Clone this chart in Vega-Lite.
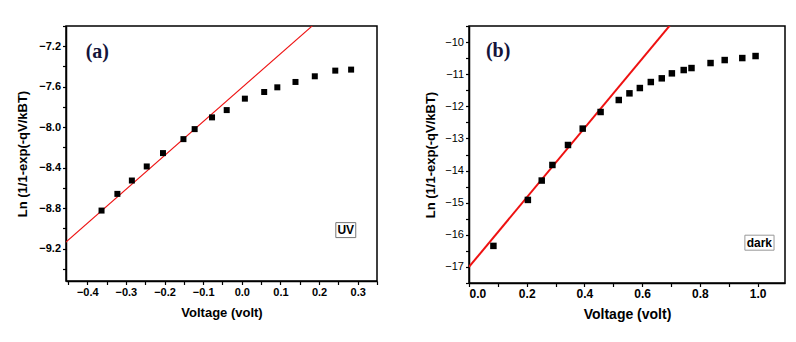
{
  "$schema": "https://vega.github.io/schema/vega-lite/v6.json",
  "padding": {"left": 16, "top": 19, "right": 0, "bottom": 0},
  "background": "white",
  "bounds": "flush",
  "spacing": 92,
  "config": {
    "view": {"stroke": "#000", "strokeWidth": 1.5},
    "font": "Liberation Sans",
    "axis": {
      "grid": false,
      "domainColor": "#000",
      "domainWidth": 1.5,
      "tickColor": "#000",
      "tickWidth": 1.2,
      "tickSize": 3.5,
      "labelColor": "#000",
      "titleColor": "#000",
      "labelFont": "Liberation Sans",
      "titleFont": "Liberation Sans",
      "labelFontSize": 11,
      "titleFontWeight": "bold",
      "labelPadding": 2,
      "labelOverlap": false
    }
  },
  "datasets": {
    "uv": [
      {"V": -0.363, "Ln": -8.824},
      {"V": -0.322, "Ln": -8.659},
      {"V": -0.2845, "Ln": -8.527},
      {"V": -0.246, "Ln": -8.388},
      {"V": -0.204, "Ln": -8.256},
      {"V": -0.151, "Ln": -8.118},
      {"V": -0.122, "Ln": -8.019},
      {"V": -0.077, "Ln": -7.903},
      {"V": -0.039, "Ln": -7.831},
      {"V": 0.008, "Ln": -7.718},
      {"V": 0.058, "Ln": -7.652},
      {"V": 0.092, "Ln": -7.606},
      {"V": 0.139, "Ln": -7.553},
      {"V": 0.189, "Ln": -7.497},
      {"V": 0.242, "Ln": -7.441},
      {"V": 0.283, "Ln": -7.431}
    ],
    "uvfit": [
      {"V": -0.46, "Ln": -9.151},
      {"V": 0.2, "Ln": -6.94}
    ],
    "dark": [
      {"V": 0.0846, "Ln": -16.345},
      {"V": 0.204, "Ln": -14.914},
      {"V": 0.252, "Ln": -14.311},
      {"V": 0.289, "Ln": -13.826},
      {"V": 0.343, "Ln": -13.204},
      {"V": 0.394, "Ln": -12.694},
      {"V": 0.456, "Ln": -12.177},
      {"V": 0.519, "Ln": -11.804},
      {"V": 0.556, "Ln": -11.596},
      {"V": 0.592, "Ln": -11.431},
      {"V": 0.63, "Ln": -11.244},
      {"V": 0.668, "Ln": -11.129},
      {"V": 0.703, "Ln": -10.974},
      {"V": 0.744, "Ln": -10.871},
      {"V": 0.771, "Ln": -10.809},
      {"V": 0.837, "Ln": -10.653},
      {"V": 0.886, "Ln": -10.56},
      {"V": 0.947, "Ln": -10.498},
      {"V": 0.993, "Ln": -10.435}
    ],
    "darkfit": [
      {"V": 0.0, "Ln": -17.0},
      {"V": 0.72, "Ln": -9.224}
    ],
    "labA": [{"V": -0.374, "Ln": -7.26, "t": "(a)"}],
    "boxA": [{"V": 0.2434, "V2": 0.295, "Ln": -8.943, "Ln2": -9.091}],
    "txtA": [{"V": 0.269, "Ln": -9.017, "t": "UV"}],
    "labB": [{"V": 0.101, "Ln": -10.28, "t": "(b)"}],
    "boxB": [{"V": 0.956, "V2": 1.057, "Ln": -16.012, "Ln2": -16.479}],
    "txtB": [{"V": 1.006, "Ln": -16.245, "t": "dark"}]
  },
  "hconcat": [
    {
      "width": 311,
      "height": 255,
      "encoding": {
        "x": {
          "field": "V", "type": "quantitative",
          "scale": {"domain": [-0.455, 0.35], "nice": false, "zero": false},
          "axis": {
            "title": "Voltage (volt)",
            "titleFontSize": 13,
            "titlePadding": 9,
            "labelOverlap": false,
            "labelFontWeight": "bold",
            "values": [-0.45, -0.4, -0.35, -0.3, -0.25, -0.2, -0.15, -0.1, -0.05, 0, 0.05, 0.1, 0.15, 0.2, 0.25, 0.3, 0.35],
            "labelExpr": "abs(round(datum.value*10) - datum.value*10) < 0.01 ? format(datum.value, '.1f') : ''"
          }
        },
        "y": {
          "field": "Ln", "type": "quantitative",
          "scale": {"domain": [-9.52, -7.0], "nice": false, "zero": false},
          "axis": {
            "title": "Ln (1/1-exp(-qV/kBT)",
            "titleFontSize": 13,
            "titlePadding": 9,
            "labelOverlap": false,
            "labelFontWeight": "bold",
            "values": [-9.4, -9.2, -9.0, -8.8, -8.6, -8.4, -8.2, -8.0, -7.8, -7.6, -7.4, -7.2, -7.0],
            "labelExpr": "abs(round((datum.value+9.2)/0.4) - (datum.value+9.2)/0.4) < 0.01 ? format(datum.value, '.1f') : ''"
          }
        }
      },
      "layer": [
        {
          "data": {"name": "uvfit"},
          "mark": {"type": "line", "color": "#ee1111", "strokeWidth": 1.1, "clip": true}
        },
        {
          "data": {"name": "uv"},
          "mark": {"type": "square", "color": "#000", "opacity": 1, "filled": true, "size": 36}
        },
        {
          "data": {"name": "labA"},
          "mark": {"type": "text", "font": "Liberation Serif", "fontWeight": "bold", "fontSize": 20, "color": "#14143a", "baseline": "middle", "align": "center"},
          "encoding": {"text": {"field": "t"}}
        },
        {
          "data": {"name": "boxA"},
          "mark": {"type": "rect", "fill": "white", "stroke": "#777", "strokeWidth": 1},
          "encoding": {"x2": {"field": "V2"}, "y2": {"field": "Ln2"}}
        },
        {
          "data": {"name": "txtA"},
          "mark": {"type": "text", "fontWeight": "bold", "fontSize": 12, "color": "#000", "baseline": "middle", "align": "center"},
          "encoding": {"text": {"field": "t"}}
        }
      ]
    },
    {
      "width": 316,
      "height": 257,
      "encoding": {
        "x": {
          "field": "V", "type": "quantitative",
          "scale": {"domain": [0, 1.095], "nice": false, "zero": false},
          "axis": {
            "title": "Voltage (volt)",
            "titleFontSize": 14,
            "titlePadding": 8,
            "labelOverlap": false,
            "labelFontWeight": "bold",
            "labelFontSize": 12,
            "values": [0, 0.1, 0.2, 0.3, 0.4, 0.5, 0.6, 0.7, 0.8, 0.9, 1.0],
            "labelExpr": "abs(round(datum.value*5) - datum.value*5) < 0.01 ? format(datum.value, '.1f') : ''"
          }
        },
        "y": {
          "field": "Ln", "type": "quantitative",
          "scale": {"domain": [-17.5, -9.5], "nice": false, "zero": false},
          "axis": {
            "title": "Ln (1/1-exp(-qV/kBT)",
            "titleFontSize": 13,
            "titlePadding": 7,
            "labelOverlap": false,
            "values": [-17.5, -17, -16.5, -16, -15.5, -15, -14.5, -14, -13.5, -13, -12.5, -12, -11.5, -11, -10.5, -10, -9.5],
            "labelExpr": "abs(round(datum.value) - datum.value) < 0.01 ? format(datum.value, 'd') : ''"
          }
        }
      },
      "layer": [
        {
          "data": {"name": "darkfit"},
          "mark": {"type": "line", "color": "#ee1111", "strokeWidth": 2, "clip": true}
        },
        {
          "data": {"name": "dark"},
          "mark": {"type": "square", "color": "#000", "opacity": 1, "filled": true, "size": 42}
        },
        {
          "data": {"name": "labB"},
          "mark": {"type": "text", "font": "Liberation Serif", "fontWeight": "bold", "fontSize": 20, "color": "#14143a", "baseline": "middle", "align": "center"},
          "encoding": {"text": {"field": "t"}}
        },
        {
          "data": {"name": "boxB"},
          "mark": {"type": "rect", "fill": "white", "stroke": "#999", "strokeWidth": 1},
          "encoding": {"x2": {"field": "V2"}, "y2": {"field": "Ln2"}}
        },
        {
          "data": {"name": "txtB"},
          "mark": {"type": "text", "fontWeight": "bold", "fontSize": 12, "color": "#000", "baseline": "middle", "align": "center"},
          "encoding": {"text": {"field": "t"}}
        }
      ]
    }
  ]
}
